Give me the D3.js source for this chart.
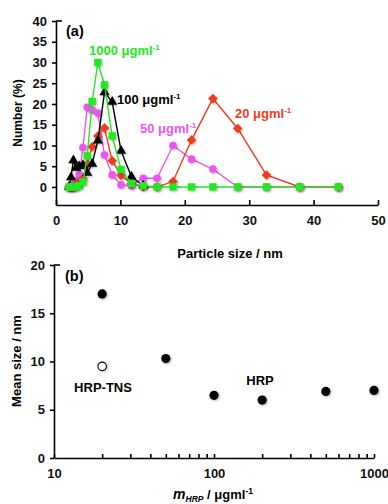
<!DOCTYPE html>
<html>
<head>
<meta charset="utf-8">
<script src="https://cdn.jsdelivr.net/npm/d3@7"></script>
<style>
  body { margin: 0; background: #fff; }
  svg { display: block; font-family: "Liberation Sans", Arial, sans-serif; font-weight: bold; }
  .axis path, .axis line { stroke: #000; stroke-width: 1.6; }
  .axis text { font-size: 13px; font-weight: bold; fill: #111; font-family: "Liberation Sans", Arial, sans-serif; }
</style>
</head>
<body>
<script>
// DATA
////////////////////////////
// size bins (nm) from the DLS number distribution
var sizeBins = [2.01, 2.328, 2.696, 3.122, 3.615, 4.187, 4.849, 5.615, 6.503, 7.531, 8.721,
                10.10, 11.70, 13.54, 15.69, 18.17, 21.04, 24.36, 28.21, 32.67, 37.84, 43.82];

// number (%) per bin, one array per HRP concentration
var num20   = [0, 0, 0, 0.3, 1.2, 2.0, 5.5, 9.7, 12.3, 14.2, 6.3, 2.8, 0.8, 0, 0, 1.3, 11.3, 21.3, 14.1, 2.9, 0, 0];
var num50   = [0, 0, 0.5, 1.5, 3.0, 9.5, 19.2, 18.5, 17.8, 7.7, 2.9, 0.5, 0.3, 2.1, 2.1, 10.0, 6.7, 4.3, 0, 0, 0, 0];
var num100  = [0, 2.3, 6.4, 4.6, 5.0, 5.3, 3.4, 5.6, 11.2, 22.8, 20.5, 8.7, 2.5, 0.3];
var num1000 = [0, 0, 0, 0, 0.3, 1.2, 7.5, 20.6, 30.0, 24.6, 12.3, 4.2, 0.8, 0.3, 0, 0, 0, 0, 0, 0, 0, 0];

var seriesNames  = ['20 μgml', '50 μgml', '100 μgml', '1000 μgml'];
var seriesColors = ['#f03a1e', '#ee55ee', '#000000', '#22e822'];

// panel (b): mean size vs HRP concentration
var hrpConc  = [20, 50, 100, 200, 500, 1000];
var hrpMean  = [17.0, 10.3, 6.5, 6.0, 6.9, 7.0];
var tnsConc  = [20];
var tnsMean  = [9.5];

var yTicksA = [0, 5, 10, 15, 20, 25, 30, 35, 40];
var xTicksA = [0, 10, 20, 30, 40, 50];
var yTicksB = [0, 5, 10, 15, 20];
var xTicksB = [10, 20, 30, 40, 50, 60, 70, 80, 90, 100, 200, 300, 400, 500, 600, 700, 800, 900, 1000];

// SETUP
////////////////////////////
var width = 388, height = 504;
var svg = d3.select('body').append('svg')
    .attr('width', width)
    .attr('height', height);

// soft shadow like the original spreadsheet markers
var filt = svg.append('defs').append('filter').attr('id', 'shadow')
    .attr('x', '-50%').attr('y', '-50%').attr('width', '200%').attr('height', '200%');
filt.append('feDropShadow').attr('dx', 1).attr('dy', 1).attr('stdDeviation', 0.9)
    .attr('flood-color', '#000').attr('flood-opacity', 0.3);

// PANEL (a)
////////////////////////////
var xA = d3.scaleLinear().domain([0, 50]).range([56, 378]);
var yA = d3.scaleLinear().domain([-4.35, 40]).range([205, 21]);

svg.append('g').attr('class', 'axis')
    .attr('transform', 'translate(0,205)')
    .call(d3.axisBottom(xA).tickValues(xTicksA).tickSizeInner(-5).tickSizeOuter(0).tickPadding(11));
var gyA = svg.append('g').attr('class', 'axis')
    .attr('transform', 'translate(56,0)')
    .call(d3.axisLeft(yA).tickValues(yTicksA).tickSizeInner(4).tickSizeOuter(0).tickPadding(5));
// cap at the top of the y axis
gyA.append('line').attr('x1', 0).attr('x2', 6).attr('y1', yA(40)).attr('y2', yA(40));

// diamond = square turned 45deg (d3's own diamond is too narrow)
var squareDiamond = {
  draw: function(ctx, size) {
    var r = Math.sqrt(size / 2);
    ctx.moveTo(0, -r); ctx.lineTo(r, 0); ctx.lineTo(0, r); ctx.lineTo(-r, 0); ctx.closePath();
  }
};
var symbols = [squareDiamond, d3.symbolCircle, d3.symbolTriangle, d3.symbolSquare];
var symSizes = [46, 46, 44, 54];
var allSeries = [num20, num50, num100, num1000];

var line = d3.line()
    .x(function(d) { return xA(d[0]); })
    .y(function(d) { return yA(d[1]); });

// draw order: magenta, red, black, green on top
[1, 0, 2, 3].forEach(function(i) {
  var pts = allSeries[i].map(function(v, j) { return [sizeBins[j], v]; });
  var g = svg.append('g');
  g.append('path')
    .attr('d', line(pts))
    .attr('fill', 'none')
    .attr('stroke', seriesColors[i])
    .attr('stroke-width', 1.4);
  g.selectAll('path.pt')
    .data(pts)
    .enter().append('path')
      .attr('class', 'pt')
      .attr('transform', function(d) { return 'translate(' + xA(d[0]) + ',' + yA(d[1]) + ')'; })
      .attr('d', d3.symbol().type(symbols[i]).size(symSizes[i]))
      .attr('fill', seriesColors[i])
      .attr('filter', 'url(#shadow)');
});

// series labels
function concLabel(x, y, i) {
  var t = svg.append('text')
      .attr('x', x).attr('y', y)
      .attr('fill', seriesColors[i])
      .attr('font-size', '13px');
  t.append('tspan').text(seriesNames[i]);
  t.append('tspan').text('-1').attr('font-size', '8px').attr('dy', -5);
}
concLabel(89, 55, 3);
concLabel(117, 104, 2);
concLabel(140, 133, 1);
concLabel(235, 118, 0);

svg.append('text').attr('x', 66).attr('y', 36).attr('font-size', '14.5px').text('(a)');

svg.append('text')
    .attr('transform', 'translate(22,113) rotate(-90)')
    .attr('text-anchor', 'middle')
    .attr('font-size', '12px')
    .text('Number (%)');
svg.append('text')
    .attr('x', 230).attr('y', 258)
    .attr('text-anchor', 'middle')
    .attr('font-size', '13px')
    .text('Particle size / nm');

// PANEL (b)
////////////////////////////
var xB = d3.scaleLog().domain([10, 1000]).range([54, 374]);
var yB = d3.scaleLinear().domain([0, 20]).range([458, 265]);

svg.append('g').attr('class', 'axis')
    .attr('transform', 'translate(0,458)')
    .call(d3.axisBottom(xB).tickValues(xTicksB).tickSizeInner(-4).tickSizeOuter(0).tickPadding(11)
      .tickFormat(function(d) { return (d === 10 || d === 100 || d === 1000) ? d : ''; }));
var gyB = svg.append('g').attr('class', 'axis')
    .attr('transform', 'translate(54,0)')
    .call(d3.axisLeft(yB).tickValues(yTicksB).tickSizeInner(4).tickSizeOuter(0).tickPadding(5));
gyB.append('line').attr('x1', 0).attr('x2', 6).attr('y1', yB(20)).attr('y2', yB(20));

svg.append('g').selectAll('circle')
  .data(hrpConc)
  .enter().append('circle')
    .attr('cx', function(d) { return xB(d); })
    .attr('cy', function(d, i) { return yB(hrpMean[i]); })
    .attr('r', 4.6)
    .attr('fill', '#000')
    .attr('filter', 'url(#shadow)');

svg.append('g').selectAll('circle')
  .data(tnsConc)
  .enter().append('circle')
    .attr('cx', function(d) { return xB(d); })
    .attr('cy', function(d, i) { return yB(tnsMean[i]); })
    .attr('r', 4.2)
    .attr('fill', '#fff')
    .attr('stroke', '#000')
    .attr('stroke-width', 1.1)
    .attr('filter', 'url(#shadow)');

svg.append('text').attr('x', 103).attr('y', 392).attr('text-anchor', 'middle')
    .attr('font-size', '13px').text('HRP-TNS');
svg.append('text').attr('x', 260).attr('y', 385).attr('text-anchor', 'middle')
    .attr('font-size', '13px').text('HRP');

svg.append('text').attr('x', 65).attr('y', 281).attr('font-size', '14.5px').text('(b)');

svg.append('text')
    .attr('transform', 'translate(21,361) rotate(-90)')
    .attr('text-anchor', 'middle')
    .attr('font-size', '13px')
    .text('Mean size / nm');

var xl = svg.append('text')
    .attr('x', 213).attr('y', 499)
    .attr('text-anchor', 'middle')
    .attr('font-size', '13px');
xl.append('tspan').text('m').attr('font-style', 'italic').attr('font-size', '14px');
xl.append('tspan').text('HRP').attr('font-style', 'italic').attr('font-size', '8.5px').attr('dy', 3);
xl.append('tspan').text(' / μgml').attr('dy', -3);
xl.append('tspan').text('-1').attr('font-size', '8.5px').attr('dy', -5);
</script>
</body>
</html>
